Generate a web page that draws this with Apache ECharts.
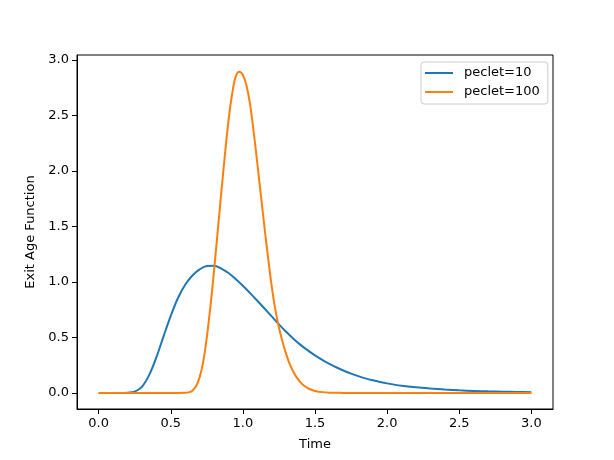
<!DOCTYPE html>
<html>
<head>
<meta charset="utf-8">
<script src="https://cdn.jsdelivr.net/npm/echarts@6/dist/echarts.min.js"></script>
<style>html,body{margin:0;padding:0;background:#fff}#c{width:614px;height:460px}</style>
</head>
<body>
<div id="c"></div>
<script>
const seriesNames = ['peclet=10', 'peclet=100'];
const xTicks = [0, 0.5, 1.0, 1.5, 2.0, 2.5, 3.0];
const yTicks = [0, 0.5, 1.0, 1.5, 2.0, 2.5, 3.0];

const timeP10 = [0, 0.05, 0.1, 0.15, 0.2, 0.25, 0.3, 0.35, 0.4, 0.45, 0.5, 0.55, 0.6, 0.65, 0.7, 0.75, 0.8, 0.85, 0.9, 0.95, 1.0, 1.05, 1.1, 1.15, 1.2, 1.25, 1.3, 1.35, 1.4, 1.45, 1.5, 1.55, 1.6, 1.65, 1.7, 1.75, 1.8, 1.85, 1.9, 1.95, 2.0, 2.1, 2.2, 2.3, 2.4, 2.5, 2.6, 2.7, 2.8, 2.9, 3.0];
const valuesP10 = [0, 0, 0, 0, 0.002, 0.012, 0.055, 0.16, 0.32, 0.51, 0.695, 0.855, 0.975, 1.058, 1.113, 1.144, 1.146, 1.120, 1.080, 1.026, 0.965, 0.899, 0.831, 0.761, 0.689, 0.618, 0.551, 0.489, 0.433, 0.383, 0.338, 0.298, 0.262, 0.229, 0.200, 0.174, 0.151, 0.131, 0.114, 0.099, 0.086, 0.065, 0.050, 0.039, 0.030, 0.023, 0.018, 0.014, 0.011, 0.008, 0.006];

const timeP100 = [0, 0.1, 0.2, 0.3, 0.4, 0.5, 0.55, 0.6, 0.625, 0.65, 0.675, 0.7, 0.725, 0.75, 0.775, 0.8, 0.825, 0.85, 0.875, 0.9, 0.925, 0.95, 0.975, 1.0, 1.025, 1.05, 1.075, 1.1, 1.125, 1.15, 1.175, 1.2, 1.225, 1.25, 1.275, 1.3, 1.325, 1.35, 1.375, 1.4, 1.425, 1.45, 1.475, 1.5, 1.55, 1.6, 1.65, 1.7, 1.8, 2.0, 2.2, 2.4, 2.6, 2.8, 3.0];
const valuesP100 = [0, 0, 0, 0, 0, 0, 0, 0.001, 0.005, 0.02, 0.06, 0.14, 0.28, 0.50, 0.78, 1.10, 1.45, 1.80, 2.14, 2.45, 2.69, 2.85, 2.895, 2.865, 2.77, 2.60, 2.35, 2.07, 1.78, 1.49, 1.215, 0.96, 0.75, 0.59, 0.46, 0.35, 0.26, 0.19, 0.135, 0.095, 0.065, 0.043, 0.028, 0.018, 0.007, 0.002, 0.001, 0, 0, 0, 0, 0, 0, 0, 0];

const pairs = (t, v) => t.map((x, i) => [x, v[i]]);
const font = 'DejaVu Sans';
const chart = echarts.init(document.getElementById('c'), null, {renderer: 'canvas'});
chart.setOption({
  animation: false,
  backgroundColor: '#fff',
  grid: {left: 77, right: 61, top: 55, bottom: 51, show: true, borderColor: '#000', borderWidth: 1, backgroundColor: 'transparent'},
  legend: {
    data: seriesNames, orient: 'vertical', left: 421, top: 62,
    icon: 'rect', itemWidth: 28, itemHeight: 2, itemGap: 5,
    padding: [4, 8, 5, 4],
    borderColor: '#ccc', borderWidth: 1, borderRadius: 3, backgroundColor: 'rgba(255,255,255,0.8)',
    textStyle: {fontFamily: font, fontSize: 13, color: '#000', lineHeight: 14, padding: [0, 0, 0, 6]}
  },
  xAxis: {
    type: 'value', min: -0.15, max: 3.15,
    name: 'Time', nameLocation: 'middle', nameGap: 29,
    nameTextStyle: {fontFamily: font, fontSize: 13, color: '#000'},
    axisLine: {show: true, onZero: false, lineStyle: {color: '#000', width: 1}},
    axisTick: {show: true, length: 5, lineStyle: {color: '#000'}, customValues: xTicks},
    axisLabel: {fontFamily: font, fontSize: 13, color: '#000', margin: 8, customValues: xTicks, formatter: v => v.toFixed(1)},
    splitLine: {show: false}
  },
  yAxis: {
    type: 'value', min: -0.145, max: 3.045,
    name: 'Exit Age Function', nameLocation: 'middle', nameGap: 35, nameRotate: 90,
    nameTextStyle: {fontFamily: font, fontSize: 13, color: '#000'},
    axisLine: {show: true, onZero: false, lineStyle: {color: '#000', width: 1}},
    axisTick: {show: true, length: 5, lineStyle: {color: '#000'}, customValues: yTicks},
    axisLabel: {fontFamily: font, fontSize: 13, color: '#000', margin: 8, customValues: yTicks, formatter: v => v.toFixed(1)},
    splitLine: {show: false}
  },
  series: [
    {name: seriesNames[0], type: 'line', data: pairs(timeP10, valuesP10), showSymbol: false, smooth: 0.35, color: '#1f77b4', lineStyle: {width: 2, color: '#1f77b4'}},
    {name: seriesNames[1], type: 'line', data: pairs(timeP100, valuesP100), showSymbol: false, smooth: 0.35, color: '#ff7f0e', lineStyle: {width: 2, color: '#ff7f0e'}}
  ]
});
</script>
</body>
</html>
